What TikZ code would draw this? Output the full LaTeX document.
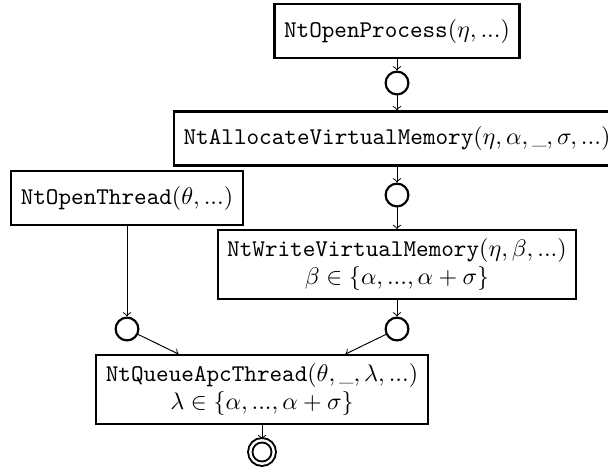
\documentclass[tikz,border=0pt]{standalone}
\usetikzlibrary{arrows,calc}
\newcommand{\fn}[1]{\texttt{#1}}
\newcommand{\blank}{\mbox{\scriptsize\_}}

\begin{document}
\begin{tikzpicture}[x=0.4167pt,y=-0.4167pt,
   call/.style={draw,line width=0.9pt,align=center,inner xsep=4pt,inner ysep=3.3pt,minimum height=22.5pt},
   state/.style={draw,circle,line width=0.9pt,inner sep=0pt,minimum size=9.5pt},
   final/.style={draw,circle,double,line width=0.8pt,double distance=1pt,inner sep=0pt,minimum size=9.8pt},
   edge/.style={thin,->}]
   \useasboundingbox (0,0) rectangle (608,468);
 %
   \node[call]  (proc)   at (397,  31)   {\fn{NtOpenProcess}$(\eta, ...)$};
   \node[state] (c1)     at (397,  83)   {};
   \node[call]  (alloc)  at (397, 138.5) {\fn{NtAllocateVirtualMemory}$(\eta, \alpha, \blank, \sigma, ...)$};
   \node[state] (c2)     at (397, 195)   {};
   \node[call]  (write)  at (397, 264.5) {\fn{NtWriteVirtualMemory}$(\eta, \beta, ...)$\\ $\beta \in \{\alpha, ..., \alpha + \sigma\}$};
   \node[call]  (thread) at (127, 198)   {\fn{NtOpenThread}$(\theta, ...)$};
   \node[state] (lc)     at (127, 329)   {};
   \node[state] (rc)     at (397, 329)   {};
   \node[call]  (queue)  at (262, 389.5) {\fn{NtQueueApcThread}$(\theta, \blank, \lambda, ...)$\\ $\lambda \in \{\alpha, ..., \alpha + \sigma\}$};
   \node[final] (fin)    at (262, 452)   {};
 %
   \draw[edge] (proc)   -- (c1);
   \draw[edge] (c1)     -- (alloc);
   \draw[edge] (alloc)  -- (c2);
   \draw[edge] (c2)     -- (write);
   \draw[edge] (thread) -- (lc);
   \draw[edge] (write)  -- (rc);
   \draw[edge] (lc)     -- ($(queue.north west)!0.25!(queue.north east)$);
   \draw[edge] (rc)     -- ($(queue.north west)!0.75!(queue.north east)$);
   \draw[edge] (queue)  -- (fin);
\end{tikzpicture}
\end{document}
